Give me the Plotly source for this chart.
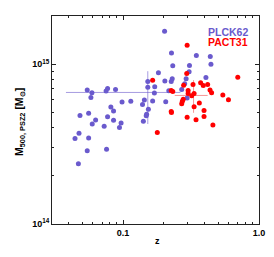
import math
import plotly.graph_objects as go

# PLCK62 sample: redshift and mass (units of 1e14 Msun)
plck_z = [0.202, 0.227, 0.346, 0.438, 0.232, 0.443, 0.308, 0.306, 0.182, 0.152,
          0.203, 0.226, 0.230, 0.407, 0.291, 0.152, 0.171, 0.284, 0.270, 0.170,
          0.217, 0.296, 0.139, 0.1434, 0.165, 0.206, 0.1535, 0.149, 0.148, 0.141,
          0.0983, 0.114, 0.0545, 0.059, 0.058, 0.075, 0.0769, 0.088, 0.0813, 0.0851,
          0.0482, 0.0558, 0.0628, 0.0593, 0.0769, 0.0726, 0.0851, 0.0967, 0.0941, 0.0474,
          0.0443, 0.0558, 0.0545, 0.0756, 0.0469]
plck_m = [16.07, 11.72, 11.33, 11.17, 9.76, 10.0, 9.81, 8.95, 8.82, 7.79,
          7.83, 7.79, 8.09, 8.26, 8.09, 7.18, 7.21, 7.53, 6.95, 6.59,
          6.81, 6.13, 5.60, 5.96, 5.87, 5.81, 5.23, 4.85, 4.75, 4.40,
          5.79, 5.85, 6.88, 6.62, 6.19, 6.78, 7.05, 6.95, 5.39, 5.09,
          4.78, 4.92, 4.47, 4.22, 4.68, 4.08, 4.45, 4.28, 4.02, 3.69,
          3.43, 3.45, 2.87, 2.93, 2.38]

# PACT31 sample
pact_z = [0.296, 0.698, 0.165, 0.294, 0.372, 0.389, 0.419, 0.327, 0.279, 0.226,
          0.232, 0.301, 0.301, 0.333, 0.320, 0.436, 0.448, 0.542, 0.596, 0.277,
          0.273, 0.270, 0.364, 0.333, 0.394, 0.226, 0.227, 0.394, 0.296, 0.344,
          0.458, 0.1786]
pact_m = [13.14, 8.29, 7.94, 8.74, 7.64, 7.36, 7.47, 7.47, 7.39, 6.85,
          6.75, 6.83, 6.54, 6.56, 6.34, 6.88, 6.62, 6.40, 5.98, 6.02,
          5.85, 5.65, 5.71, 5.41, 5.13, 5.06, 4.99, 4.71, 4.66, 4.49,
          4.16, 3.74]

# median / spread crosses: [center, low, high]
plck_cross_z = [0.152, 0.038, 0.264]
plck_cross_m = [6.65, 4.22, 9.03]
pact_cross_z = [0.330, 0.240, 0.419]
pact_cross_m = [6.37, 4.96, 7.94]

BLUE = "#6a5acd"
RED = "#ff0000"
UNIT = 1e14
FONT = "Liberation Sans"

fig = go.Figure()

def cross(zc, mc, color):
    fig.add_trace(go.Scatter(
        x=[zc[0]], y=[mc[0] * UNIT], mode="markers",
        marker=dict(size=0.1, color="rgba(0,0,0,0)"),
        error_x=dict(type="data", symmetric=False, array=[zc[2] - zc[0]],
                     arrayminus=[zc[0] - zc[1]], color=color, thickness=1, width=0),
        error_y=dict(type="data", symmetric=False, array=[(mc[2] - mc[0]) * UNIT],
                     arrayminus=[(mc[0] - mc[1]) * UNIT], color=color, thickness=1, width=0),
        showlegend=False, hoverinfo="skip"))

cross(plck_cross_z, plck_cross_m, "rgba(106,90,205,0.6)")
cross(pact_cross_z, pact_cross_m, "rgba(240,80,80,0.6)")

fig.add_trace(go.Scatter(x=plck_z, y=[m * UNIT for m in plck_m], mode="markers",
                         marker=dict(size=5, color=BLUE), showlegend=False))
fig.add_trace(go.Scatter(x=pact_z, y=[m * UNIT for m in pact_m], mode="markers",
                         marker=dict(size=5, color=RED), showlegend=False))

axis_common = dict(showgrid=False, zeroline=False, showline=True, linecolor="#222",
                   linewidth=1, mirror="allticks", ticks="inside", tickcolor="#222",
                   ticklen=4, tickwidth=1, automargin=False, ticklabeloverflow="allow")

fig.update_xaxes(type="log", range=[math.log10(0.03), 0],
                 tickvals=[0.1, 1.0], ticktext=["<b>0.1</b>", "<b>1.0</b>"],
                 tickfont=dict(size=9, color="black", family=FONT),
                 minor=dict(tickvals=[0.03, 0.04, 0.05, 0.06, 0.07, 0.08, 0.09,
                                      0.2, 0.3, 0.4, 0.5, 0.6, 0.7, 0.8, 0.9],
                            ticks="inside", ticklen=2, tickcolor="#222"),
                 **axis_common)
fig.update_yaxes(type="log", range=[14, math.log10(2e15)],
                 tickvals=[1e14, 1e15],
                 ticktext=["<b>10<sup>14</sup></b>", "<b>10<sup>15</sup></b>"],
                 tickfont=dict(size=9, color="black", family=FONT),
                 minor=dict(tickvals=[2e14, 3e14, 4e14, 5e14, 6e14, 7e14, 8e14, 9e14,
                                      2e15],
                            ticks="inside", ticklen=2, tickcolor="#222"),
                 **axis_common)

# axis titles
fig.add_annotation(x=0.511, y=-0.082, xref="paper", yref="paper", xanchor="center",
                   yanchor="middle", text="<b>z</b>", showarrow=False,
                   font=dict(size=9, color="black", family=FONT))
fig.add_annotation(x=-0.155, y=0.49, xref="paper", yref="paper", xanchor="center",
                   yanchor="middle", textangle=-90,
                   text="<b>M<sub>500, PSZ2</sub> [M<sub>\u2299</sub>]</b>",
                   showarrow=False, font=dict(size=10.5, color="black", family=FONT))

# legend texts
fig.add_annotation(x=0.744, y=0.925, xref="paper", yref="paper", xanchor="left",
                   yanchor="middle", text="<b>PLCK62</b>", showarrow=False,
                   font=dict(size=10.5, color=BLUE, family=FONT))
fig.add_annotation(x=0.744, y=0.877, xref="paper", yref="paper", xanchor="left",
                   yanchor="middle", text="<b>PACT31</b>", showarrow=False,
                   font=dict(size=10.5, color=RED, family=FONT))

fig.update_layout(width=274, height=257, margin=dict(l=52, r=15, t=16, b=33),
                  paper_bgcolor="white", plot_bgcolor="white")

fig.write_html("out.html", config={"displayModeBar": False},
               post_script="document.body.style.margin='0';"
                           "document.body.style.overflow='hidden';")
